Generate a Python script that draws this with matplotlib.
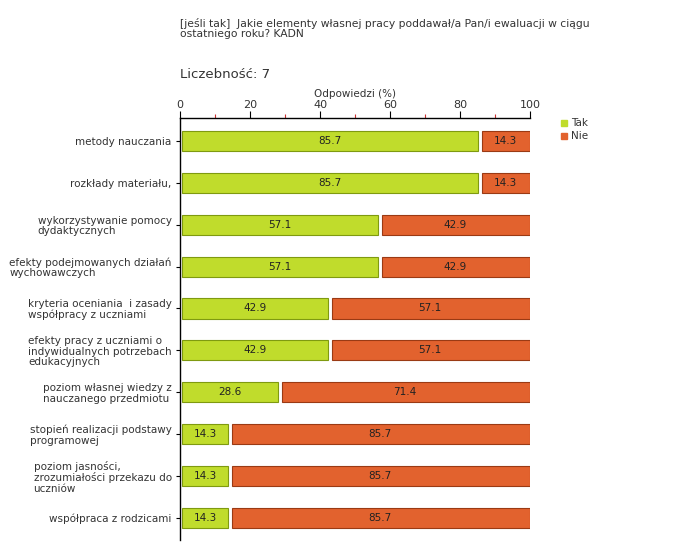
import matplotlib.pyplot as plt
import numpy as np

# data
categories = [
    "metody nauczania",
    "rozkłady materiału,",
    "wykorzystywanie pomocy\ndydaktycznych",
    "efekty podejmowanych działań\nwychowawczych",
    "kryteria oceniania  i zasady\nwspółpracy z uczniami",
    "efekty pracy z uczniami o\nindywidualnych potrzebach\nedukacyjnych",
    "poziom własnej wiedzy z\nnauczanego przedmiotu",
    "stopień realizacji podstawy\nprogramowej",
    "poziom jasności,\nzrozumiałości przekazu do\nuczniów",
    "współpraca z rodzicami",
]
tak = [85.7, 85.7, 57.1, 57.1, 42.9, 42.9, 28.6, 14.3, 14.3, 14.3]
nie = [14.3, 14.3, 42.9, 42.9, 57.1, 57.1, 71.4, 85.7, 85.7, 85.7]
series_names = ["Tak", "Nie"]

green = "#c0dc2c"
green_edge = "#7f9a10"
orange = "#e2622e"
orange_edge = "#9a3a14"
txt = "#333333"

plt.rcParams['font.family'] = ['DejaVu Sans']

fig = plt.figure(figsize=(6.8, 5.6), dpi=100)
ax = fig.add_axes([180/680, 1 - 540/560, 350/680, (540 - 118)/560])

y = np.arange(len(categories))
h = 0.48
gap = 0.5  # small white gap around the segments
ax.barh(y, np.array(tak) - 2 * gap, left=gap, height=h, color=green,
        edgecolor=green_edge, linewidth=0.8)
ax.barh(y, np.array(nie) - gap, left=np.array(tak) + gap, height=h,
        color=orange, edgecolor=orange_edge, linewidth=0.8)

for i in range(len(categories)):
    ax.text(tak[i] / 2, y[i], f"{tak[i]:.1f}", ha="center", va="center",
            fontsize=7.5, color="#222222")
    ax.text(tak[i] + nie[i] / 2, y[i], f"{nie[i]:.1f}", ha="center", va="center",
            fontsize=7.5, color="#222222")

ax.set_xlim(0, 100)
ax.set_ylim(9.53, -0.55)
ax.set_yticks(y)
ax.set_yticklabels(categories, fontsize=7.5, color=txt, linespacing=1.05,
                   multialignment="left")
ax.xaxis.tick_top()
ax.xaxis.set_label_position("top")
ax.set_xticks([0, 20, 40, 60, 80, 100])
ax.set_xticks([10, 30, 50, 70, 90], minor=True)
ax.tick_params(axis="x", which="major", length=5, width=0.8, labelsize=8,
               labelcolor=txt, pad=1)
ax.tick_params(axis="x", which="minor", length=3, width=0.8, color="#cc3333")
ax.tick_params(axis="y", length=3, width=0.8, pad=3)
ax.set_xlabel("Odpowiedzi (%)", fontsize=7.5, color=txt, labelpad=2)

for s in ["right", "bottom"]:
    ax.spines[s].set_visible(False)
ax.spines["left"].set_linewidth(1)
ax.spines["top"].set_linewidth(1)

# header
fig.text(180/680, 1 - 18/560, "[jeśli tak]  Jakie elementy własnej pracy poddawał/a Pan/i ewaluacji w ciągu\nostatniego roku? KADN",
         fontsize=7.75, color=txt, va="top", ha="left", linespacing=0.95)
fig.text(180/680, 1 - 75/560, "Liczebność: 7", fontsize=9.5, color=txt,
         va="center", ha="left")

# legend
fig.patches.append(plt.Rectangle((561/680, 1 - 126/560), 6/680, 6/560,
                                 transform=fig.transFigure, color=green))
fig.patches.append(plt.Rectangle((561/680, 1 - 139/560), 6/680, 6/560,
                                 transform=fig.transFigure, color=orange))
fig.text(571/680, 1 - 123/560, series_names[0], fontsize=7.5, color=txt, va="center")
fig.text(571/680, 1 - 136/560, series_names[1], fontsize=7.5, color=txt, va="center")

plt.savefig("out.png", dpi=100)
